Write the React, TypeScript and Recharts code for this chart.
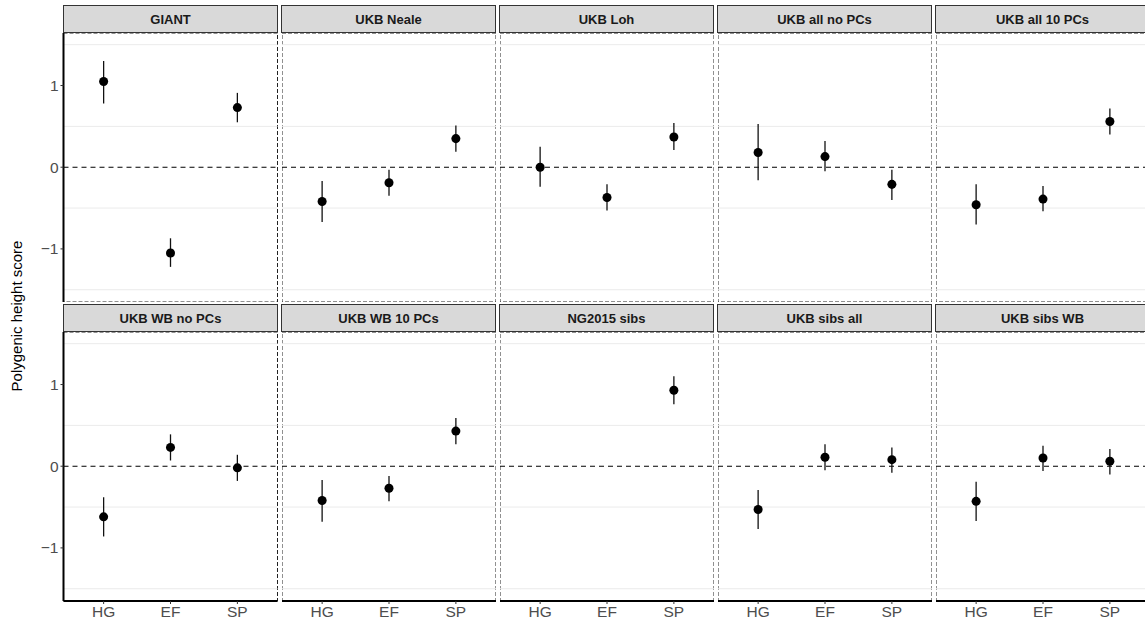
import { ScatterChart, Scatter, XAxis, YAxis, ErrorBar, ReferenceLine, ReferenceArea } from 'recharts'

// facet titles, in reading order (2 rows x 5 columns)
const facets = [
  'GIANT', 'UKB Neale', 'UKB Loh', 'UKB all no PCs', 'UKB all 10 PCs',
  'UKB WB no PCs', 'UKB WB 10 PCs', 'NG2015 sibs', 'UKB sibs all', 'UKB sibs WB',
]
const groups = ['HG', 'EF', 'SP']

// point estimates per facet: HG, EF, SP
const estimates: (number | null)[][] = [
  [1.05, -1.05, 0.73],
  [-0.42, -0.19, 0.35],
  [0.0, -0.37, 0.37],
  [0.18, 0.13, -0.21],
  [-0.46, -0.39, 0.56],
  [-0.62, 0.23, -0.02],
  [-0.42, -0.27, 0.43],
  [null, null, 0.93],
  [-0.53, 0.11, 0.08],
  [-0.43, 0.1, 0.06],
]
// lower and upper interval ends
const lower: (number | null)[][] = [
  [0.78, -1.22, 0.55],
  [-0.67, -0.35, 0.19],
  [-0.24, -0.53, 0.21],
  [-0.16, -0.05, -0.4],
  [-0.7, -0.54, 0.4],
  [-0.86, 0.07, -0.18],
  [-0.68, -0.43, 0.27],
  [null, null, 0.76],
  [-0.77, -0.05, -0.08],
  [-0.67, -0.06, -0.1],
]
const upper: (number | null)[][] = [
  [1.3, -0.87, 0.91],
  [-0.17, -0.03, 0.51],
  [0.25, -0.21, 0.54],
  [0.53, 0.32, -0.03],
  [-0.21, -0.23, 0.72],
  [-0.38, 0.39, 0.14],
  [-0.17, -0.12, 0.59],
  [null, null, 1.1],
  [-0.29, 0.27, 0.23],
  [-0.19, 0.25, 0.21],
]

const yTicks = [-1, 0, 1]
const minorGrid = [-1.5, -0.5, 0.5, 1.5]

const Y_MIN = -1.65
const Y_MAX = 1.643
const X_MIN = 0.4
const X_MAX = 3.6

const PANEL_W = 214
const PANEL_H = 269
const COL_STEP = 218
const ROW_STEP = 299
const LEFT0 = 63.5
const TOP0 = 5.5
const STRIP_H = 27
const YAXIS_W = 63.5
const XAXIS_H = 26

const FONT = '"Liberation Sans", Arial, Helvetica, sans-serif'

function Panel({ index }: { index: number }) {
  const row = Math.floor(index / 5)
  const col = index % 5
  const showY = col === 0
  const showX = row === 1

  const data = groups
    .map((g, i) => {
      const est = estimates[index][i]
      const lo = lower[index][i]
      const hi = upper[index][i]
      if (est == null || lo == null || hi == null) return null
      return { x: i + 1, y: est, err: [est - lo, hi - est] }
    })
    .filter(Boolean) as { x: number; y: number; err: number[] }[]

  const left = LEFT0 + col * COL_STEP
  const top = TOP0 + row * ROW_STEP

  return (
    <>
      <div
        style={{
          position: 'absolute',
          left: left - 0.5,
          top: top - 0.5,
          width: PANEL_W + 1,
          height: STRIP_H + 1,
          boxSizing: 'border-box',
          background: '#d9d9d9',
          border: '1px solid #333',
          fontFamily: FONT,
          fontWeight: 'bold',
          fontSize: 13,
          color: '#1a1a1a',
          display: 'flex',
          alignItems: 'center',
          justifyContent: 'center',
        }}
      >
        {facets[index]}
      </div>
      <div style={{ position: 'absolute', left: showY ? left - YAXIS_W : left, top: top + STRIP_H }}>
        <ScatterChart
          width={PANEL_W + (showY ? YAXIS_W : 0)}
          height={PANEL_H + (showX ? XAXIS_H : 0)}
          margin={{ top: 0, right: 0, bottom: 0, left: 0 }}
          style={{ overflow: 'visible' }}
        >
          <XAxis
            type="number"
            dataKey="x"
            domain={[X_MIN, X_MAX]}
            ticks={[1, 2, 3]}
            tickFormatter={(v: number) => groups[v - 1]}
            allowDataOverflow
            hide={!showX}
            height={XAXIS_H}
            axisLine={{ stroke: '#000', strokeWidth: 2 }}
            tickLine={{ stroke: '#333' }}
            tickSize={3}
            tick={{ fill: '#4d4d4d', fontSize: 15.5, fontFamily: FONT }}
          />
          <YAxis
            type="number"
            dataKey="y"
            domain={[Y_MIN, Y_MAX]}
            ticks={yTicks}
            allowDataOverflow
            hide={!showY}
            width={showY ? YAXIS_W : 0}
            tickFormatter={(v: number) => (v < 0 ? '\u2212' + Math.abs(v) : String(v))}
            axisLine={{ stroke: '#000', strokeWidth: 2 }}
            tickLine={{ stroke: '#333' }}
            tickSize={3}
            tick={{ fill: '#4d4d4d', fontSize: 15.5, fontFamily: FONT }}
          />
          {minorGrid.map(v => (
            <ReferenceLine key={v} y={v} stroke="#ebebeb" strokeWidth={1} />
          ))}
          <ReferenceLine y={0} stroke="#000" strokeDasharray="5 4" strokeWidth={1.1} />
          <ReferenceArea
            x1={X_MIN}
            x2={X_MAX}
            y1={Y_MIN}
            y2={Y_MAX}
            fill="none"
            fillOpacity={0}
            stroke="#222"
            strokeDasharray="4 2"
            strokeWidth={1}
            ifOverflow="visible"
          />
          <Scatter data={data} fill="#000" isAnimationActive={false}>
            <ErrorBar dataKey="err" direction="y" width={0} stroke="#111" strokeWidth={1.3} />
          </Scatter>
        </ScatterChart>
      </div>
    </>
  )
}

export default function App() {
  return (
    <div
      style={{
        position: 'absolute',
        left: 0,
        top: 0,
        width: 1145,
        height: 625,
        overflow: 'hidden',
        background: '#fff',
      }}
    >
      {facets.map((_, i) => (
        <Panel key={i} index={i} />
      ))}
      <div
        style={{
          position: 'absolute',
          left: 16,
          top: 316,
          transform: 'translate(-50%, -50%) rotate(-90deg)',
          whiteSpace: 'nowrap',
          fontFamily: FONT,
          fontSize: 15,
          color: '#000',
        }}
      >
        Polygenic height score
      </div>
    </div>
  )
}
